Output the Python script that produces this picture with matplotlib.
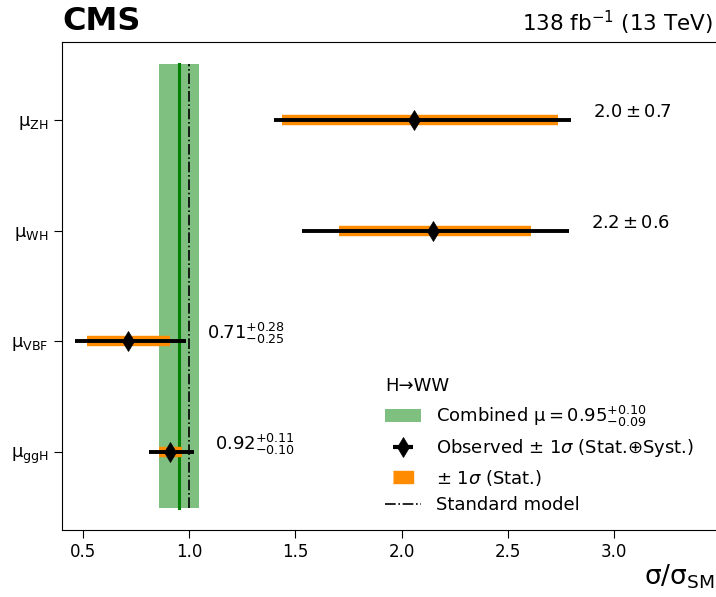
import matplotlib
matplotlib.use('Agg')
import matplotlib.pyplot as plt
from matplotlib.patches import Patch
from matplotlib.lines import Line2D
from matplotlib.legend_handler import HandlerTuple

plt.rcParams['mathtext.default'] = 'regular'

# processes, bottom to top
labels = [r'$\mathregular{\mu_{ggH}}$', r'$\mathregular{\mu_{VBF}}$',
          r'$\mathregular{\mu_{WH}}$', r'$\mathregular{\mu_{ZH}}$']
mu = [0.91, 0.71, 2.15, 2.06]
tot_lo = [0.81, 0.46, 1.53, 1.40]
tot_hi = [1.02, 0.985, 2.79, 2.80]
stat_lo = [0.858, 0.517, 1.705, 1.437]
stat_hi = [0.965, 0.91, 2.61, 2.736]
val_text = [r'$0.92^{+0.11}_{-0.10}$', r'$0.71^{+0.28}_{-0.25}$',
            r'$2.2 \pm 0.6$', r'$2.0 \pm 0.7$']
text_x = [1.12, 1.085, 2.89, 2.90]

comb = 0.95
comb_lo = 0.855
comb_hi = 1.046

fig = plt.figure(figsize=(7.16, 5.97), dpi=100)
ax = fig.add_axes([62/716, 67/597, 658/716, 488/597])

ypos = list(range(len(labels)))

ax.fill_betweenx([-0.5, 3.5], comb_lo, comb_hi, color='green', alpha=0.5, lw=0)
ax.plot([comb, comb], [-0.5, 3.5], color='green', lw=2.2)
ax.plot([1.0, 1.0], [-0.5, 3.5], color='black', lw=1.2, ls='-.')

for i, y in enumerate(ypos):
    ax.plot([stat_lo[i], stat_hi[i]], [y, y], color='darkorange', lw=7.5,
            solid_capstyle='butt', zorder=3)
    ax.plot([tot_lo[i], tot_hi[i]], [y, y], color='black', lw=2.8,
            solid_capstyle='butt', zorder=4)
    ax.plot(mu[i], y, marker='d', color='black', ms=10, mew=0.5, zorder=5)
    ax.text(text_x[i], y + 0.07, val_text[i], fontsize=13, va='center', ha='left')

ax.set_xlim(0.4, 3.5)
ax.set_ylim(-0.7, 3.7)
ax.set_yticks(ypos)
ax.set_yticklabels(labels, fontsize=13)
ax.set_xticks([0.5, 1.0, 1.5, 2.0, 2.5, 3.0])
ax.tick_params(axis='x', labelsize=12, length=6)
ax.tick_params(axis='y', length=6)

rect = [(-1, -0.55), (1, -0.55), (1, 0.55), (-1, 0.55)]
handles = [
    Patch(facecolor='green', alpha=0.5, edgecolor='none'),
    (Line2D([0], [0], color='black', marker='_', ms=14, mew=3, lw=0),
     Line2D([0], [0], color='black', marker='d', ms=10, mew=0.5, lw=0)),
    Line2D([0], [0], color='darkorange', marker=rect, ms=15, lw=0),
    Line2D([0], [0], color='black', lw=1.2, ls='-.'),
]
leg_labels = [r'Combined $\mathregular{\mu = 0.95^{+0.10}_{-0.09}}$',
              r'Observed $\pm$ 1$\mathit{\sigma}$ (Stat.$\oplus$Syst.)',
              r'$\pm$ 1$\mathit{\sigma}$ (Stat.)',
              'Standard model']
leg = ax.legend(handles, leg_labels, title='H→WW', frameon=False,
                fontsize=13, title_fontsize=13, loc='upper left',
                bbox_to_anchor=(369/716, 1 - 361/597), bbox_transform=fig.transFigure,
                labelspacing=0.47, handler_map={tuple: HandlerTuple(ndivide=1)})
leg._legend_box.align = 'left'

fig.text(62/716, 1 - 6/597, 'CMS', fontsize=23, fontweight='bold', va='top', ha='left')
fig.text(713/716, 1 - 9/597, r'138 fb$^{-1}$ (13 TeV)', fontsize=15.5, va='top', ha='right')
fig.text(715/716, 6/597, r'$\mathregular{\sigma/\sigma_{SM}}$', fontsize=19, va='bottom', ha='right')

fig.savefig('out.png', dpi=100)
